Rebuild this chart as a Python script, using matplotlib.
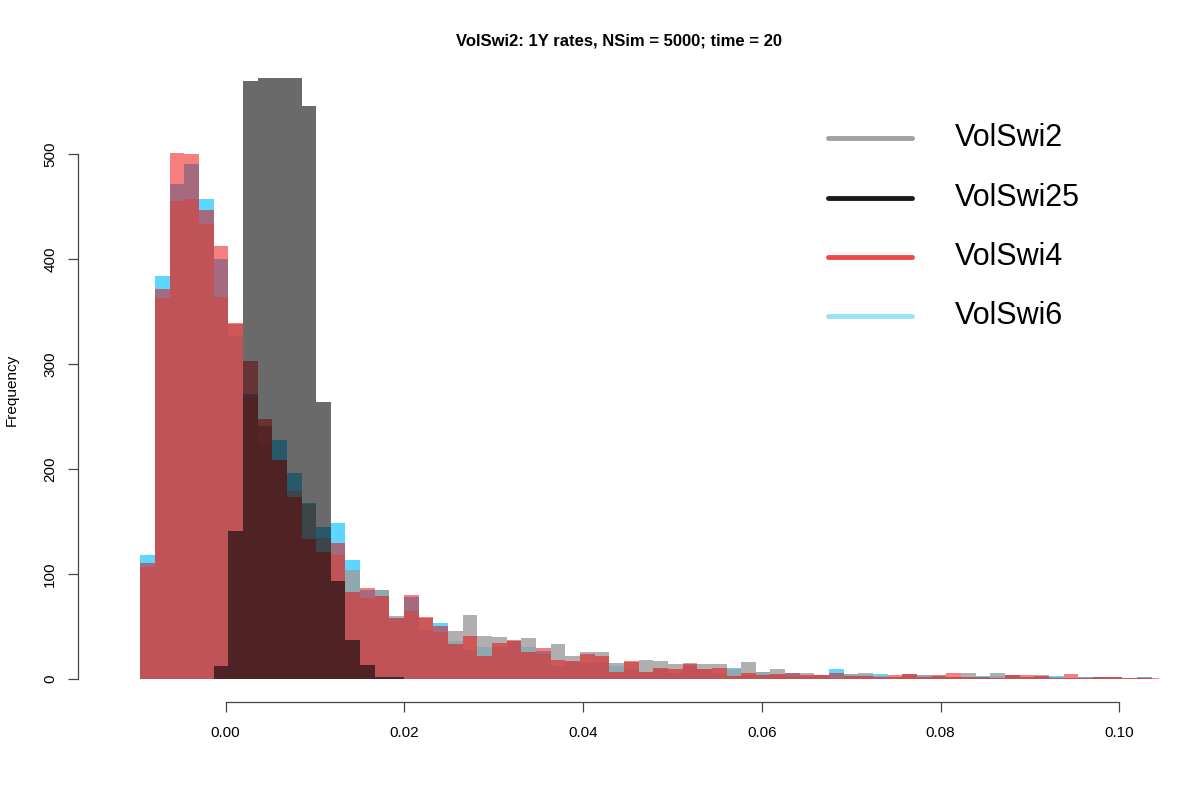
import numpy as np
import matplotlib
matplotlib.use("Agg")
import matplotlib.pyplot as plt
from matplotlib.lines import Line2D

plt.rcParams['font.family'] = ['Liberation Sans', 'DejaVu Sans']

# counts per bin (70 common bins)
volswi6 = [118, 384, 471, 491, 457, 400, 327, 271, 223, 228,
           196, 168, 145, 149, 113, 85, 85, 58, 78, 47,
           53, 36, 28, 30, 30, 36, 30, 27, 12, 16,
           15, 16, 12, 9, 7, 9, 6, 12, 9, 5,
           10, 4, 7, 4, 6, 2, 4, 9, 5, 4,
           5, 2, 3, 4, 3, 2, 2, 3, 3, 3,
           2, 2, 3, 1, 2, 2, 1, 0, 2, 0]
volswi2 = [107, 363, 455, 457, 433, 364, 338, 268, 241, 209,
           179, 167, 134, 118, 104, 77, 85, 60, 65, 58,
           45, 46, 61, 41, 40, 36, 39, 24, 33, 22,
           26, 26, 15, 16, 18, 17, 14, 15, 14, 14,
           9, 16, 7, 9, 3, 6, 4, 1, 5, 6,
           3, 2, 5, 4, 3, 2, 6, 2, 6, 4,
           2, 4, 2, 1, 2, 2, 2, 1, 2, 0]
volswi4 = [110, 371, 501, 500, 447, 412, 339, 303, 248, 209,
           173, 133, 121, 129, 83, 87, 79, 58, 80, 59,
           50, 33, 41, 22, 34, 37, 26, 29, 18, 17,
           24, 22, 7, 17, 7, 10, 9, 14, 9, 10,
           3, 6, 4, 5, 6, 4, 4, 6, 3, 3,
           2, 4, 5, 2, 4, 6, 2, 2, 1, 4,
           4, 3, 1, 5, 1, 2, 2, 1, 1, 1]
# the tallest VolSwi25 bins run off the top of the plot (estimated)
volswi25 = [0, 0, 0, 0, 0, 12, 141, 570, 1020, 1230,
            1070, 546, 264, 93, 37, 13, 2, 2] + [0] * 52

bin_start = -0.00955
bin_width = 0.00164
edges = bin_start + bin_width * np.arange(len(volswi2) + 1)

names = ["VolSwi2", "VolSwi25", "VolSwi4", "VolSwi6"]
legend_colors = ["#a0a0a0", "#1a1a1a", "#f04848", "#96e2f8"]

fig = plt.figure(figsize=(12, 8), dpi=100)
ax = fig.add_axes([0.0653, 0.1225, 0.9008, 0.7794])

# same drawing order as the original: VolSwi6, VolSwi2, VolSwi4, VolSwi25
ax.stairs(volswi6, edges, fill=True, color="#00BEFF", alpha=0.63, lw=0)
ax.stairs(volswi2, edges, fill=True, color="#9d9d9d", alpha=0.8, lw=0)
ax.stairs(volswi4, edges, fill=True, color="#ef0000", alpha=0.5, lw=0)
ax.stairs(volswi25, edges, fill=True, color="#000000", alpha=0.584, lw=0)

ax.set_xlim(-0.01648, 0.10448)
ax.set_ylim(-22, 572)

for s in ["top", "right"]:
    ax.spines[s].set_visible(False)
ax.spines["bottom"].set_bounds(0, 0.1)
ax.spines["left"].set_bounds(0, 500)
for s in ["bottom", "left"]:
    ax.spines[s].set_color("#444444")
    ax.spines[s].set_linewidth(0.9)

xt = [0.0, 0.02, 0.04, 0.06, 0.08, 0.10]
ax.set_xticks(xt)
ax.set_xticklabels(["%.2f" % v for v in xt])
ax.set_yticks([0, 100, 200, 300, 400, 500])
ax.tick_params(direction="out", length=7.2, width=0.9, color="#444444",
               labelsize=11, pad=10)
ax.tick_params(axis="y", pad=8)
for lab in ax.get_yticklabels():
    lab.set_rotation(90)
    lab.set_va("center")

ax.set_title("VolSwi2: 1Y rates, NSim = 5000; time = 20",
             fontsize=12, fontweight="bold", pad=24)
fig.text(12 / 1200, 0.5122, "Frequency", rotation=90, fontsize=11,
         ha="center", va="center")

leg_y = [1 - 138 / 800, 1 - 198 / 800, 1 - 257 / 800, 1 - 316 / 800]
for name, col, y in zip(names, legend_colors, leg_y):
    fig.add_artist(Line2D([0.69, 0.76], [y, y], transform=fig.transFigure,
                          color=col, lw=3.5, solid_capstyle="round"))
    fig.text(0.796, y, name, fontsize=22, va="center")

fig.savefig("out.png", dpi=100)
